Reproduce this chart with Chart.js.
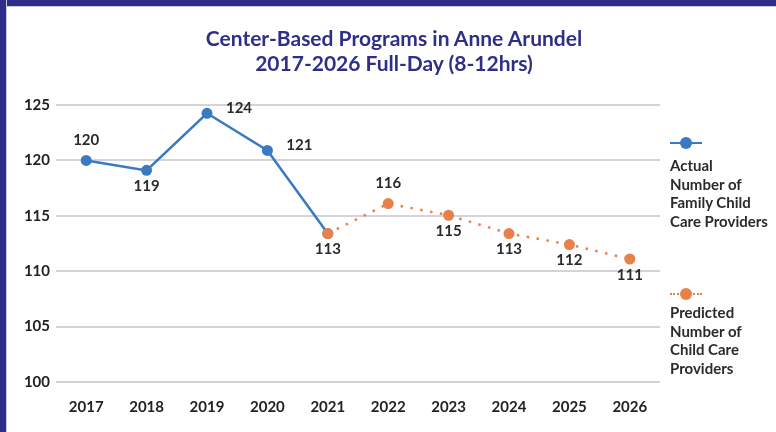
<!DOCTYPE html>
<html>
<head>
<meta charset="utf-8">
<script src="https://cdn.jsdelivr.net/npm/chart.js@4.4.1/dist/chart.umd.min.js"></script>
<style>
  html, body { margin: 0; padding: 0; background: #fff; }
  #frame {
    position: relative; width: 776px; height: 432px; overflow: hidden;
    background: #fff; font-family: Lato, sans-serif;
  }
  #frame:before {
    content: ''; position: absolute; left: 0; top: 0; right: 0; height: 6px;
    background: #2e2e88; box-shadow: 0 1px 0 #c9c9d6; z-index: 2;
  }
  #frame:after {
    content: ''; position: absolute; left: 0; top: 0; bottom: 0; width: 6px;
    background: #2e2e88; box-shadow: 1px 0 0 #c9c9d6; z-index: 2;
  }
  #titulo {
    position: absolute; left: 6px; width: 776px; top: 25px; text-align: center;
    color: #2e3087; font-weight: 700; font-size: 21px; line-height: 25px;
  }
  #chartBox { position: absolute; left: 0; top: 0; width: 776px; height: 432px; }
  .leg { position: absolute; left: 670px; color: #2b2b2b; font-size: 15px; font-weight: 700; line-height: 18.5px; white-space: nowrap; }
  .amostra { position: absolute; left: 670px; width: 32px; height: 12px; }
  .amostra .linha { position: absolute; left: 0; right: 0; top: 5px; }
  .amostra .ponto { position: absolute; left: 10px; top: 0; width: 12px; height: 12px; border-radius: 50%; }
</style>
</head>
<body>
<div id="frame">
  <div id="chartBox"><canvas id="lineChart"></canvas></div>
  <div id="titulo">Center-Based Programs in Anne Arundel<br>2017-2026 Full-Day (8-12hrs)</div>

  <div class="amostra" style="top:137px">
    <div class="linha" style="border-top:2.5px solid #3a7ac2"></div>
    <div class="ponto" style="background:#3a7ac2"></div>
  </div>
  <div class="leg" style="top:156px">Actual<br>Number of<br>Family Child<br>Care Providers</div>

  <div class="amostra" style="top:288px">
    <div class="linha" style="border-top:2.5px dotted #e8804a"></div>
    <div class="ponto" style="background:#e8804a"></div>
  </div>
  <div class="leg" style="top:303px">Predicted<br>Number of<br>Child Care<br>Providers</div>
</div>

<script>
  // dados
  const anos = ['2017', '2018', '2019', '2020', '2021', '2022', '2023', '2024', '2025', '2026'];
  const atual = [120, 119.1, 124.25, 120.9, 113.4, null, null, null, null, null];
  const previsto = [null, null, null, null, 113.4, 116.1, 115.05, 113.4, 112.4, 111.1];
  const yTicks = [100, 105, 110, 115, 120, 125];

  // posicao do rotulo de cada ponto
  const posRotulo = ['top', 'bottom', 'right', 'right', 'bottom', 'top', 'bottom', 'bottom', 'bottom', 'bottom'];

  const azul = '#3a7ac2';
  const laranja = '#e8804a';

  /* rotulos de dados */
  const rotulos = {
    id: 'rotulos',
    afterDatasetsDraw(chart) {
      const ctx = chart.ctx;
      const metaAtual = chart.getDatasetMeta(1);
      const metaPrev = chart.getDatasetMeta(0);
      ctx.save();
      ctx.font = '700 15px Lato';
      ctx.fillStyle = '#2b2b2b';
      ctx.textAlign = 'center';
      ctx.textBaseline = 'middle';
      anos.forEach((ano, i) => {
        let v, p;
        if (previsto[i] != null) { v = previsto[i]; p = metaPrev.data[i]; }
        else { v = atual[i]; p = metaAtual.data[i]; }
        let x = p.x, y = p.y;
        if (posRotulo[i] === 'top') y -= 20;
        else if (posRotulo[i] === 'bottom') y += 16;
        else { x += 32; y -= 5; }
        ctx.fillText(Math.round(v), x, y);
      });
      ctx.restore();
    }
  };

  document.addEventListener('DOMContentLoaded', () => {
    Chart.defaults.font.family = 'Lato';
    const ctx = document.getElementById('lineChart').getContext('2d');

    new Chart(ctx, {
      type: 'line',
      data: {
        labels: anos,
        datasets: [{
            label: 'Predicted Number of Child Care Providers',
            data: previsto,
            borderColor: laranja,
            backgroundColor: laranja,
            borderWidth: 2.5,
            borderDash: [2.5, 7.5],
            pointRadius: 5.5,
            pointHoverRadius: 5.5,
            pointBorderWidth: 0,
            tension: 0,
            order: 0
          },
          {
            label: 'Actual Number of Family Child Care Providers',
            data: atual,
            borderColor: azul,
            backgroundColor: azul,
            borderWidth: 2.5,
            pointRadius: 5.5,
            pointHoverRadius: 5.5,
            pointBorderWidth: 0,
            tension: 0,
            order: 1
          }
        ]
      },
      options: {
        responsive: true,
        maintainAspectRatio: false,
        animation: false,
        spanGaps: false,
        layout: { padding: { top: 105, right: 116, left: 0, bottom: 0 } },
        scales: {
          x: {
            offset: true,
            grid: { display: false },
            border: { display: false },
            ticks: { color: '#222', font: { size: 15, weight: 'bold' }, padding: 8 },
            afterFit: s => { s.height = 50; }
          },
          y: {
            min: 100,
            max: 125,
            afterBuildTicks: s => { s.ticks = yTicks.map(v => ({ value: v })); },
            grid: { color: '#d3d3db', lineWidth: 2, drawTicks: false },
            border: { display: false },
            ticks: { color: '#222', font: { size: 15, weight: 'bold' }, padding: 6 },
            afterFit: s => { s.width = 56; }
          }
        },
        plugins: {
          legend: { display: false },
          title: { display: false },
          tooltip: { enabled: false }
        }
      },
      plugins: [rotulos]
    });
  });
</script>
</body>
</html>
